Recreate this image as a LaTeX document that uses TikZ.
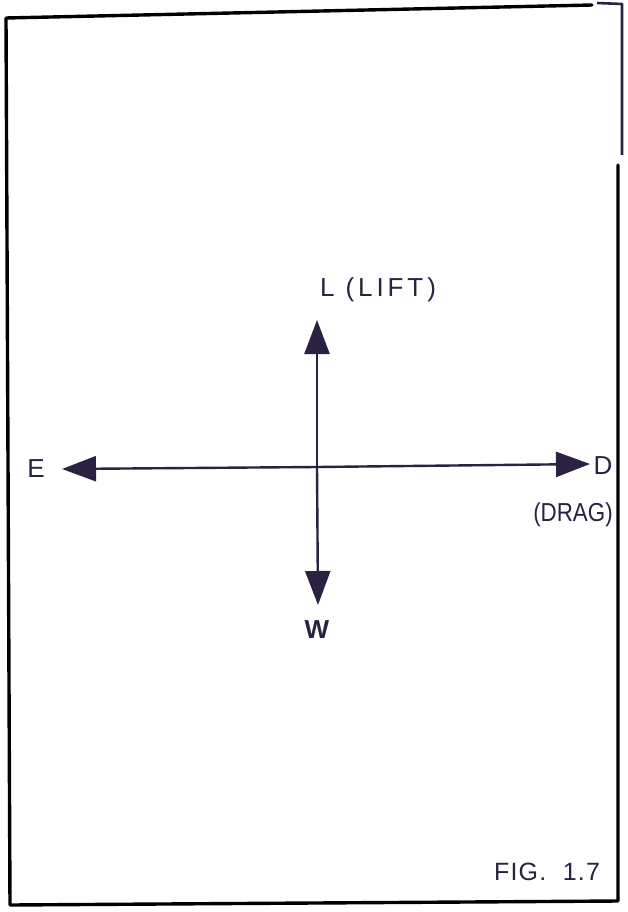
\documentclass[tikz,border=0pt]{standalone}
\usepackage{fontspec}
\setmainfont{Liberation Sans}
\usetikzlibrary{arrows.meta}
\definecolor{ink}{HTML}{2B2140}
\tikzset{
  frame/.style={line width=3.4pt, black, line cap=round, line join=round},
  force/.style={line width=2.4pt, ink, -{Triangle[length=34pt,width=25pt]}},
  lbl/.style={text=ink, font=\fontsize{26}{28}\selectfont, inner sep=0pt},
}
\begin{document}
\begin{tikzpicture}[x=1pt,y=-1pt]
\useasboundingbox (0,0) rectangle (627,912);
\fill[white] (0,0) rectangle (627,912);
% frame
\coordinate (tl) at (6,18);
\coordinate (tr) at (592,5);
\coordinate (bl) at (10,905);
\coordinate (br) at (618,901);
\coordinate (rtop) at (618,165);
\draw[frame] (tr) -- (tl) -- (bl) -- (br) -- (rtop);
\coordinate (b1) at (597,3);
\coordinate (b2) at (622,4);
\coordinate (b3) at (622,155);
\draw[line width=2.6pt, ink, line join=round] (b1) -- (b2) -- (b3);
% forces
\coordinate (O) at (317,467);
\coordinate (Ltip) at (317,320);
\coordinate (Wtip) at (318,605);
\coordinate (Etip) at (62,469);
\coordinate (Dtip) at (590,464);
\draw[force] (O) -- (Ltip);
\draw[force] (O) -- (Wtip);
\draw[force] (O) -- (Etip);
\draw[force] (O) -- (Dtip);
% labels
\node[lbl] (L) at (378,290) {\addfontfeature{LetterSpace=15}L (LIFT)};
\node[lbl] (E) at (36,469) {E};
\node[lbl] (D) at (603,466) {D};
\node[lbl, xscale=0.86] (drag) at (573,515) {(DRAG)};
\node[lbl, font=\bfseries\fontsize{26}{28}\selectfont] (W) at (317,630) {W};
\node[lbl, font=\fontsize{25}{27}\selectfont] (fig) at (547,872) {\addfontfeature{LetterSpace=5}FIG.\ \ 1.7};
\end{tikzpicture}
\end{document}
